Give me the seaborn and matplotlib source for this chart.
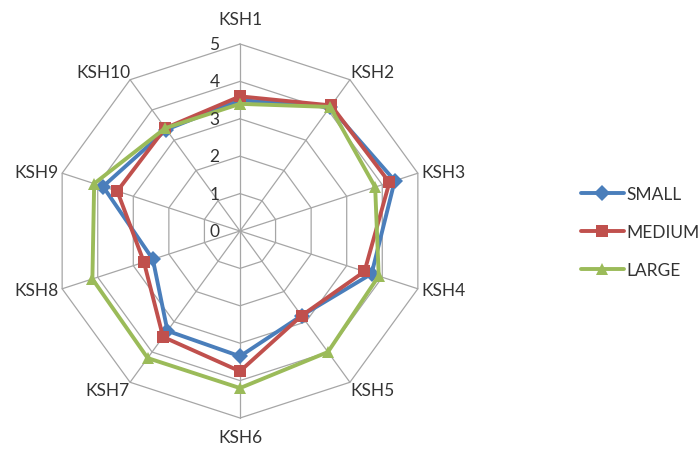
import numpy as np
import pandas as pd
import matplotlib
matplotlib.use("Agg")
import matplotlib.pyplot as plt
import seaborn as sns

categories = ["KSH1", "KSH2", "KSH3", "KSH4", "KSH5",
              "KSH6", "KSH7", "KSH8", "KSH9", "KSH10"]
small = [3.5, 4.1, 4.35, 3.7, 2.8, 3.35, 3.3, 2.45, 3.85, 3.35]
medium = [3.6, 4.15, 4.2, 3.5, 2.8, 3.75, 3.5, 2.7, 3.45, 3.4]
large = [3.4, 4.1, 3.8, 3.9, 4.0, 4.2, 4.2, 4.15, 4.1, 3.4]
series_names = ["SMALL", "MEDIUM", "LARGE"]
ticks = [0, 1, 2, 3, 4, 5]

colors = {"SMALL": "#4A7EBB", "MEDIUM": "#C0504D", "LARGE": "#9BBB59"}
markers = {"SMALL": "D", "MEDIUM": "s", "LARGE": "^"}
text_color = "#333333"

sns.set_style("white")
plt.rcParams["font.family"] = ["Lato", "DejaVu Sans"]

n = len(categories)
angles = np.deg2rad(90 - 360 / n * np.arange(n))
rmax = ticks[-1]

# long-form table of the closed polygons, in cartesian coordinates
rows = []
for name, vals in zip(series_names, [small, medium, large]):
    for k in list(range(n)) + [0]:
        rows.append({"series": name, "order": len(rows),
                     "x": vals[k] * np.cos(angles[k]),
                     "y": vals[k] * np.sin(angles[k])})
df = pd.DataFrame(rows)

fig = plt.figure(figsize=(6.99, 4.52), dpi=100)
unit = 37.4  # pixels per value unit
cx, cy = 240, 232
span = 6.0
ax = fig.add_axes([(cx - span * unit) / 699, (452 - cy - span * unit) / 452,
                   2 * span * unit / 699, 2 * span * unit / 452])
ax.set_xlim(-span, span)
ax.set_ylim(-span, span)
ax.set_axis_off()

# decagonal grid and spokes
grid_kw = dict(color="#A6A6A6", lw=0.9, zorder=0)
for r in ticks[1:]:
    gx = r * np.cos(np.append(angles, angles[0]))
    gy = r * np.sin(np.append(angles, angles[0]))
    ax.plot(gx, gy, **grid_kw)
for a in angles:
    ax.plot([0, rmax * np.cos(a)], [0, rmax * np.sin(a)], **grid_kw)

sns.lineplot(data=df, x="x", y="y", hue="series", style="series",
             hue_order=series_names, style_order=series_names,
             palette=colors, markers=markers, dashes=False,
             estimator=None, sort=False, units="series",
             lw=2.8, markersize=8.5, markeredgewidth=0, ax=ax, zorder=3)

# radial value labels along the first spoke
for t in ticks:
    ax.text(-0.55, t, str(t), ha="right", va="center",
            fontsize=12.5, color=text_color)

# category labels
for name, a in zip(categories, angles):
    c, s = np.cos(a), np.sin(a)
    if abs(c) < 0.1:
        ha = "center"
        r = 5.45 if s > 0 else 5.3
        va = "bottom" if s > 0 else "top"
    elif abs(s) < 0.5:
        ha = "left" if c > 0 else "right"
        va = "center"
        r = 5.1
    else:
        ha = "left" if c > 0 else "right"
        va = "bottom" if s > 0 else "top"
        r = 5.0
    ax.text(r * c, r * s, name, ha=ha, va=va, fontsize=12.5, color=text_color)

handles, labels = ax.get_legend_handles_labels()
ax.legend(handles, labels, loc="center left",
          bbox_to_anchor=(565 / 699, (452 - 233) / 452),
          bbox_transform=fig.transFigure, frameon=False,
          fontsize=12.5, handlelength=2.5, handletextpad=0.15,
          labelspacing=1.25, labelcolor=text_color)

fig.savefig("out.png", dpi=100)
